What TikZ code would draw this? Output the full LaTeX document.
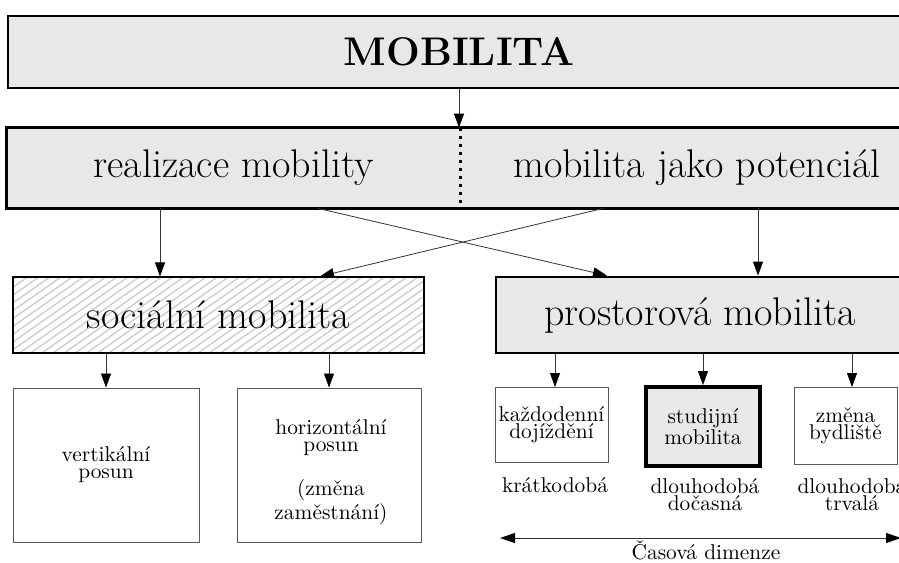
\documentclass[tikz,border=0pt]{standalone}
\usepackage{fontspec}
\usepackage{tikz}
\usetikzlibrary{arrows.meta, patterns.meta}

\definecolor{boxgray}{RGB}{232,232,232}
\tikzset{
	bigbox/.style = {draw, line width=1.4pt, fill=boxgray, inner sep=0pt, font=\fontsize{20}{22}\selectfont},
	smallbox/.style = {draw=black!65, line width=0.5pt, inner sep=0pt, align=center, font=\fontsize{10.7}{8.5}\selectfont},
	lbl/.style = {align=center, inner sep=0pt, font=\fontsize{10.7}{8.5}\selectfont},
	arr/.style = {draw=black!80, line width=0.4pt, arrows = {-Triangle[length=7pt, width=5pt, black]}},
}

\begin{document}
\begin{tikzpicture}[x=0.5pt, y=-0.5pt]
		\useasboundingbox (0,0) rectangle (899,562);
		\clip (0,0) rectangle (899,562);
		% top level
		\node[bigbox, minimum width=451pt, minimum height=36pt, font=\fontsize{20}{22}\selectfont\bfseries] (mob) at (459,52) {MOBILITA};
		\node[bigbox, draw=none, minimum width=225.5pt, minimum height=39pt] (real) at (233.5,168) {realizace mobility};
		\node[bigbox, draw=none, minimum width=238pt, minimum height=39pt] (pot) at (697,168) {mobilita jako potenciál};
		\draw[line width=1.4pt] (real.north west) rectangle (pot.south east);
		\draw[line width=1.5pt, dash pattern=on 1.5pt off 2.5pt] (real.north east) -- (real.south east);
		% second level
		\node[bigbox, fill=none, pattern={Lines[angle=35, distance=3.2pt, line width=0.6pt]}, pattern color=black!22, minimum width=205.5pt, minimum height=38pt] (soc) at (218.5,315) {sociální mobilita};
		\node[bigbox, minimum width=204pt, minimum height=38pt] (pros) at (700,315) {prostorová mobilita};
		% boxes below
		\node[smallbox, minimum width=93pt, minimum height=77pt] (vert) at (106,465) {vertikální\\posun};
		\node[smallbox, minimum width=92pt, minimum height=77pt] (hor) at (329,465) {};
		\node[lbl] (hortxt) at (331,472) {horizontální\\posun\\[11pt](změna\\zaměstnání)};
		\node[smallbox, minimum width=56.5pt, minimum height=37.5pt] (kaz) at (551.5,425) {každodenní\\dojíždění};
		\node[smallbox, draw=black, line width=2pt, fill=boxgray, minimum width=57pt, minimum height=39.5pt] (stud) at (703,426.5) {studijní\\mobilita};
		\node[smallbox, minimum width=51.5pt, minimum height=38.5pt] (zm) at (845.5,426) {změna\\bydliště};
		\node[lbl] (kra) at (555,485) {krátkodobá};
		\node[lbl] (doc) at (705,495) {dlouhodobá\\dočasná};
		\node[lbl] (trv) at (852,495) {dlouhodobá\\trvalá};
		% time axis
		\coordinate (tl) at (500,538);
		\coordinate (tr) at (901,538);
		\draw[draw=black!80, line width=0.5pt, arrows = {Triangle[length=7.5pt, width=5pt, black]-Triangle[length=7.5pt, width=5pt, black]}] (tl) -- (tr);
		\node[lbl] (cas) at (706,550) {Časová dimenze};
		% arrows
		\draw[arr] (mob.south) -- (mob.south |- real.north);
		\draw[arr] (real.south -| 160,0) -- (soc.north -| 160,0);
		\draw[arr] (real.south -| 318,0) -- (pros.north -| 607,0);
		\draw[arr] (pot.south -| 603,0) -- (soc.north -| 320,0);
		\draw[arr] (pot.south -| 758,0) -- (pros.north -| 758,0);
		\draw[arr] (soc.south -| vert.north) -- (vert.north);
		\draw[arr] (soc.south -| hor.north) -- (hor.north);
		\draw[arr] (pros.south -| kra) -- (kaz.north -| kra);
		\draw[arr] (pros.south -| stud.north) -- (stud.north);
		\draw[arr] (pros.south -| trv) -- (zm.north -| trv);
	\end{tikzpicture}
\end{document}
